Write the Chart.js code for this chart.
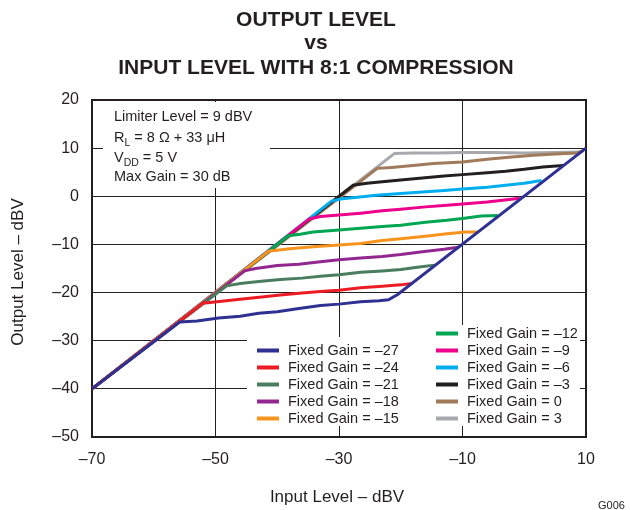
<!DOCTYPE html>
<html><head><meta charset="utf-8">
<script src="https://cdn.jsdelivr.net/npm/chart.js@4.4.1/dist/chart.umd.min.js"></script>
<style>html,body{margin:0;padding:0;background:#fff;}#wrap{width:630px;height:510px;}</style>
</head><body><div id="wrap"><canvas id="c" width="630" height="510"></canvas></div>
<script>
// ---- data ----
const xTicks = [-70, -50, -30, -10, 10];
const yTicks = [-50, -40, -30, -20, -10, 0, 10, 20];
const gainLabels = ['Fixed Gain = \u201327','Fixed Gain = \u201324','Fixed Gain = \u201321','Fixed Gain = \u201318','Fixed Gain = \u201315','Fixed Gain = \u201312','Fixed Gain = \u20139','Fixed Gain = \u20136','Fixed Gain = \u20133','Fixed Gain = 0','Fixed Gain = 3'];
const gainColors = ['#2e3192','#ed1c24','#4a7d5f','#92278f','#f7941d','#00a651','#ec008c','#00aeef','#231f20','#a07a5a','#a7a9ac'];

const inM27  = [-70, -55.8, -53, -49.5, -46, -43, -40, -36.5, -33, -30, -26.5, -23.5, -22, -20.5, 10];
const outM27 = [-40, -26.1, -25.9, -25.3, -24.9, -24.3, -24.0, -23.3, -22.7, -22.4, -21.9, -21.7, -21.5, -20.4, 10];
const inM24  = [-70, -52, -49, -46, -42.5, -39.5, -36, -33, -30, -26.5, -23, -20, -18.2];
const outM24 = [-40, -22.2, -21.8, -21.4, -20.9, -20.5, -20.1, -19.8, -19.5, -19.0, -18.7, -18.4, -18.1];
const inM21  = [-70, -48.2, -46, -43, -39.5, -36, -33, -30, -26.5, -23, -20, -17, -14.5];
const outM21 = [-40, -18.6, -18.1, -17.7, -17.3, -17.0, -16.6, -16.3, -15.8, -15.5, -15.2, -14.7, -14.3];
const inM18  = [-70, -45.3, -43.5, -40, -36.5, -33, -30, -26.5, -23, -20, -16.5, -13, -10.7];
const outM18 = [-40, -15.5, -15.0, -14.4, -14.1, -13.6, -13.2, -12.8, -12.5, -12.1, -11.5, -11.0, -10.6];
const inM15  = [-70, -41.4, -38, -34.2, -30, -26.5, -23, -20, -16, -12.5, -9.5, -7.6];
const outM15 = [-40, -11.4, -10.9, -10.5, -10.1, -9.8, -9.2, -8.8, -8.3, -7.8, -7.4, -7.4];
const inM12  = [-70, -38.2, -36.3, -34.2, -30, -26, -23, -20, -16, -12.5, -10, -7, -4.3];
const outM12 = [-40, -8.2, -7.9, -7.4, -7.0, -6.6, -6.3, -6.0, -5.4, -5.0, -4.6, -4.1, -4.0];
const inM9   = [-70, -34.8, -33, -30, -26.5, -23, -20, -16, -13, -10, -6, -3.5, -0.7];
const outM9  = [-40, -4.7, -4.2, -3.9, -3.5, -3.0, -2.7, -2.2, -1.9, -1.6, -1.2, -0.8, -0.4];
const inM6   = [-70, -31.2, -29.5, -27, -24, -20, -16.5, -13, -10, -6, -3, 0, 2.8];
const outM6  = [-40, -1.0, -0.5, -0.2, 0.2, 0.6, 0.9, 1.2, 1.5, 1.9, 2.3, 2.7, 3.3];
const inM3   = [-70, -27.7, -25.5, -23, -20, -16.5, -13, -10, -6, -3, 0, 3, 6.3];
const outM3  = [-40, 2.3, 2.7, 3.0, 3.4, 3.8, 4.2, 4.5, 4.9, 5.2, 5.6, 6.1, 6.4];
const inG0   = [-70, -23.8, -21.5, -18, -14.7, -10, -6, -2.5, 1.5, 5, 8.5, 9.6];
const outG0  = [-40, 5.8, 6.0, 6.4, 6.8, 7.1, 7.7, 8.1, 8.5, 8.8, 9.0, 9.5];
const inP3   = [-70, -21, -18, -14, -10, -5, 0, 5, 9.3];
const outP3  = [-40, 8.9, 9.0, 9.0, 9.1, 9.1, 9.0, 9.1, 9.2];

const seriesIn  = [inM27, inM24, inM21, inM18, inM15, inM12, inM9, inM6, inM3, inG0, inP3];
const seriesOut = [outM27, outM24, outM21, outM18, outM15, outM12, outM9, outM6, outM3, outG0, outP3];

// ---- chart ----
const FONT = "'Liberation Sans', Arial, Helvetica, sans-serif";
const INK = '#231f20';
const fmt = v => (v < 0 ? '\u2013' + Math.abs(v) : '' + v);

const datasets = seriesIn.map((xs, i) => ({
  label: gainLabels[i],
  data: xs.map((x, k) => ({x: x, y: seriesOut[i][k]})),
  borderColor: gainColors[i],
  backgroundColor: gainColors[i],
  borderWidth: 3,
  pointRadius: 0,
  tension: 0,
  fill: false
}));

const decor = {
  id: 'decor',
  beforeDatasetsDraw(chart) {
    const ctx = chart.ctx, a = chart.chartArea;
    ctx.save();
    ctx.fillStyle = '#fff';
    // note box and legend boxes (cover the grid)
    ctx.fillRect(a.left + 11, a.top + 2, 167, 86);
    ctx.fillRect(247, 337, 190, 89);
    ctx.fillRect(430, 325, 150, 101);
    // full frame
    ctx.strokeStyle = INK;
    ctx.lineWidth = 2;
    ctx.strokeRect(a.left, a.top, a.right - a.left, a.bottom - a.top);
    ctx.restore();
  },
  afterDraw(chart) {
    const ctx = chart.ctx, a = chart.chartArea;
    ctx.save();
    ctx.fillStyle = INK;
    // title
    ctx.textAlign = 'center';
    ctx.textBaseline = 'alphabetic';
    ctx.font = 'bold 21px ' + FONT;
    ctx.fillText('OUTPUT LEVEL', 316, 26);
    ctx.fillText('vs', 316, 49);
    ctx.fillText('INPUT LEVEL WITH 8:1 COMPRESSION', 316, 74);
    // axis titles
    ctx.font = '17px ' + FONT;
    ctx.textBaseline = 'middle';
    ctx.fillText('Input Level \u2013 dBV', 337, 497);
    ctx.save();
    ctx.translate(18, 272);
    ctx.rotate(-Math.PI / 2);
    ctx.fillText('Output Level \u2013 dBV', 0, 0);
    ctx.restore();
    // figure id
    ctx.font = '11px ' + FONT;
    ctx.textAlign = 'left';
    ctx.fillText('G006', 598, 506);
    // note box
    ctx.textBaseline = 'alphabetic';
    const nx = 114;
    const big = '14.5px ' + FONT, sub = '10.5px ' + FONT;
    ctx.font = big;
    ctx.fillText('Limiter Level = 9 dBV', nx, 121);
    let w;
    ctx.fillText('R', nx, 141.5); w = ctx.measureText('R').width;
    ctx.font = sub; ctx.fillText('L', nx + w, 145.5); w += ctx.measureText('L').width;
    ctx.font = big; ctx.fillText(' = 8 \u03A9 + 33 \u03BCH', nx + w, 141.5);
    ctx.fillText('V', nx, 161.5); w = ctx.measureText('V').width;
    ctx.font = sub; ctx.fillText('DD', nx + w, 165.5); w += ctx.measureText('DD').width;
    ctx.font = big; ctx.fillText(' = 5 V', nx + w, 161.5);
    ctx.fillText('Max Gain = 30 dB', nx, 181);
    // legend
    ctx.textBaseline = 'middle';
    ctx.font = '14.5px ' + FONT;
    chart.data.datasets.forEach((ds, i) => {
      let x0, y;
      if (i < 5) { x0 = 257; y = 350.5 + i * 17; }
      else { x0 = 436; y = 333.5 + (i - 5) * 17; }
      ctx.strokeStyle = ds.borderColor;
      ctx.lineWidth = 4;
      ctx.beginPath(); ctx.moveTo(x0, y); ctx.lineTo(x0 + 22, y); ctx.stroke();
      ctx.fillStyle = INK;
      ctx.fillText(ds.label, x0 + 31, y + 0.5);
    });
    ctx.restore();
  }
};

new Chart(document.getElementById('c'), {
  type: 'line',
  data: { datasets: datasets },
  options: {
    responsive: false,
    animation: false,
    devicePixelRatio: 1,
    layout: { padding: { left: 0, top: 100, right: 44, bottom: 0 } },
    plugins: { legend: { display: false }, title: { display: false }, tooltip: { enabled: false } },
    scales: {
      x: {
        type: 'linear', min: xTicks[0], max: xTicks[xTicks.length - 1],
        afterBuildTicks: s => { s.ticks = xTicks.map(v => ({value: v})); },
        afterFit: s => { s.height = 73; },
        ticks: { font: { size: 16, family: FONT }, color: INK, padding: 13, maxRotation: 0, autoSkip: false, callback: fmt },
        grid: { color: INK, lineWidth: 1, drawTicks: false },
        border: { color: INK, width: 2 }
      },
      y: {
        type: 'linear', min: yTicks[0], max: yTicks[yTicks.length - 1],
        afterBuildTicks: s => { s.ticks = yTicks.map(v => ({value: v})); },
        afterFit: s => { s.width = 92; },
        ticks: { font: { size: 16, family: FONT }, color: INK, padding: 13, autoSkip: false, callback: fmt },
        grid: { color: INK, lineWidth: 1, drawTicks: false },
        border: { color: INK, width: 2 }
      }
    }
  },
  plugins: [decor]
});
</script></body></html>
